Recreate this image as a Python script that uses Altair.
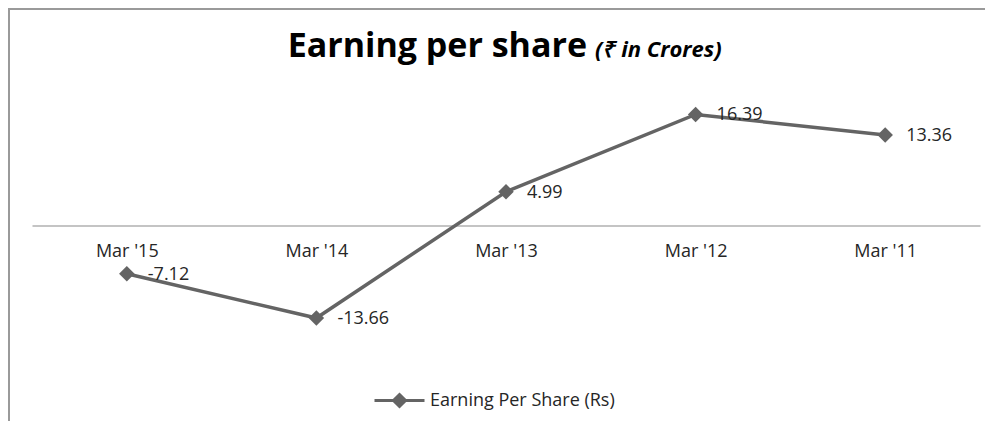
import altair as alt
import pandas as pd

categories = ["Mar '15", "Mar '14", "Mar '13", "Mar '12", "Mar '11"]
eps_values = [-7.12, -13.66, 4.99, 16.39, 13.36]
value_labels = ["-7.12", "-13.66", "4.99", "16.39", "13.36"]
series_name = "Earning Per Share (Rs)"

df = pd.DataFrame({
    "period": categories,
    "eps": eps_values,
    "label": value_labels,
    "series": [series_name] * len(categories),
})

LINE = "#646464"
FONT = "Open Sans"
W, H = 948, 271
SYM = "M-1,0L1,0M0,-0.24L0.24,0L0,0.24L-0.24,0Z"

x_enc = alt.X(
    "period:N",
    sort=categories,
    scale=alt.Scale(paddingInner=0, paddingOuter=0.5),
    axis=alt.Axis(
        title=None, orient="bottom", offset=-H / 2, ticks=False, tickSize=0,
        labelPadding=17, labelAngle=0, labelFont=FONT, labelFontSize=18,
        labelColor="#262626", domainColor="#c4c4c4", domainWidth=2, grid=False,
    ),
)
y_enc = alt.Y("eps:Q", scale=alt.Scale(domain=[-20, 20], nice=False), axis=None)
color_enc = alt.Color(
    "series:N",
    scale=alt.Scale(domain=[series_name], range=[LINE]),
    legend=alt.Legend(
        title=None, orient="none", legendX=341, legendY=284, padding=0,
        symbolType=SYM, symbolSize=2500, symbolFillColor=LINE,
        symbolStrokeColor=LINE, symbolStrokeWidth=3, labelLimit=500,
        labelFont=FONT, labelFontSize=18, labelColor="#262626", labelOffset=4,
    ),
)

base = alt.Chart(df)
line = base.mark_line(strokeWidth=3.5).encode(x=x_enc, y=y_enc, color=color_enc)
points = base.mark_point(shape="diamond", filled=True, size=240, opacity=1).encode(
    x=x_enc, y=y_enc, color=color_enc
)
labels = base.mark_text(
    align="left", baseline="middle", dx=21, dy=1, font=FONT, fontSize=18, color="#262626"
).encode(x=x_enc, y=y_enc, text="label:N")

deco = alt.Chart(pd.DataFrame({"a": [0]}))
title_bold = deco.mark_text(
    text="Earning per share", align="right", baseline="alphabetic",
    font=FONT, fontSize=34, fontWeight="bold", color="#000000",
).encode(x=alt.value(555), y=alt.value(-33))
title_it = deco.mark_text(
    text="(₹ in Crores)", align="left", baseline="alphabetic",
    font=FONT, fontSize=22, fontWeight="bold", fontStyle="italic", color="#000000",
).encode(x=alt.value(563), y=alt.value(-33))
border = deco.mark_rect(fill=None, stroke="#9a9a9a", strokeWidth=2).encode(
    x=alt.value(-23), y=alt.value(-81), x2=alt.value(W + 40), y2=alt.value(H + 100)
)

chart = alt.layer(border, line, points, labels, title_bold, title_it).properties(
    width=W, height=H,
    background="white",
    autosize=alt.AutoSizeParams(type="none"),
    padding={"left": 24, "top": 82, "right": 5, "bottom": 60},
).configure_view(strokeOpacity=0, strokeWidth=0)

chart.save("out.html", embed_options={"renderer": "svg", "actions": False})
